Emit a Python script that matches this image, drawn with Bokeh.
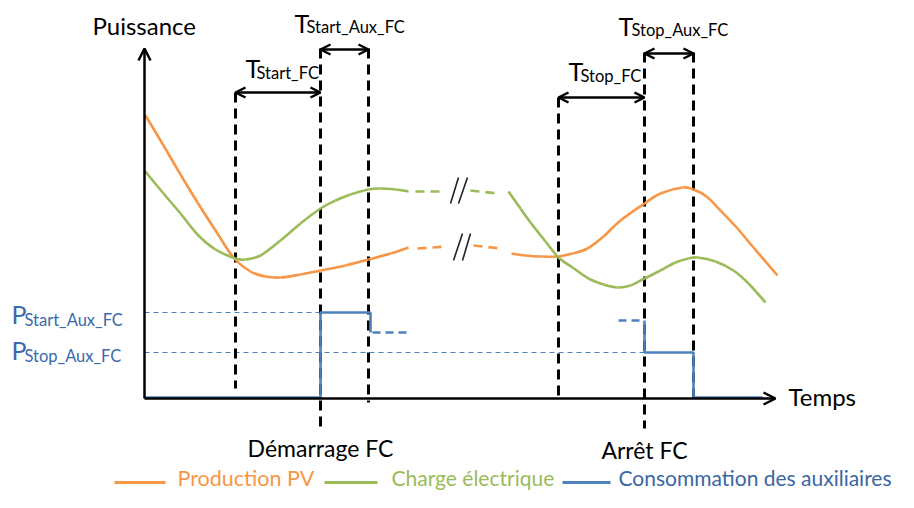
from bokeh.plotting import figure
from bokeh.models import Range1d, Arrow, OpenHead
from bokeh.core.properties import value
from bokeh.embed import file_html
from bokeh.resources import INLINE

# ---------------- data (schematic) ----------------
# Production PV (orange) — segment before and after the time break
pv_t1 = [145, 163, 180, 197, 217, 233, 250, 265, 280, 300, 320, 345, 368, 390, 408]
pv_p1 = [115, 145, 174, 202, 233, 257, 271, 276, 277, 274, 270, 265, 259, 253, 247]
pv_t2 = [511, 525, 540, 558, 572, 587, 603, 620, 644, 660, 682, 693, 706, 720, 737, 753, 777]
pv_p2 = [253, 255, 256, 256, 253, 248, 236, 220, 203, 193, 187, 189, 196, 210, 228, 247, 275]

# Charge électrique (green)
ch_t1 = [144, 163, 180, 197, 215, 235, 245, 260, 280, 300, 320, 335, 350, 368, 380, 395, 408]
ch_p1 = [170, 193, 213, 234, 249, 258, 259, 255, 240, 223, 208, 200, 194, 189, 188, 189, 191]
ch_t2 = [508, 520, 530, 545, 558, 572, 588, 603, 617, 630, 644, 660, 675, 688, 697, 715, 733, 748, 765]
ch_p2 = [191, 208, 222, 241, 257, 267, 278, 284, 287, 285, 278, 270, 262, 258, 257, 261, 270, 283, 302]

# Consommation des auxiliaires (blue steps)
aux_t1 = [144, 320, 320, 370, 370]
aux_p1 = [397, 397, 312, 312, 332]
aux_t2 = [644, 644, 693, 693, 762]
aux_p2 = [320, 352, 352, 397, 397]
aux_dash_t = [[372, 410], [618, 642]]
aux_dash_p = [[332, 332], [320, 320]]

# Thresholds
p_levels = [312, 352]
p_level_ends = [320, 644]

# Event times (vertical dashed markers)
ev_t = [235, 320, 368, 558, 644, 693]
ev_top = [92, 48, 48, 97, 52, 52]
ev_bot = [388, 428, 402, 400, 428, 402]

# Duration arrows
dur_t0 = [235, 320, 558, 644]
dur_t1 = [320, 368, 644, 693]
dur_p = [92, 49, 97, 53]

# Legend entries
leg_labels = ["Production PV", "Charge électrique", "Consommation des auxiliaires"]

ORANGE = "#F79646"
GREEN = "#9BBB59"
BLUE = "#4F81BD"
FONT = value("Lato")
TXT_SHIFT = -10   # rendered baseline sits ~10px below the requested one

p = figure(width=898, height=492, output_backend="svg", toolbar_location=None,
           x_range=Range1d(0, 898), y_range=Range1d(492, 0),
           min_border=0, min_border_left=0, min_border_right=0,
           min_border_top=0, min_border_bottom=0)
p.axis.visible = False
p.grid.visible = False
p.outline_line_color = None
p.background_fill_color = "white"


def smooth(xs, ys, color, width=2.6):
    """Draw a smooth curve through the read points with cubic Bezier pieces (Catmull-Rom)."""
    n = len(xs)
    x0, y0, x1, y1, cx0, cy0, cx1, cy1 = [], [], [], [], [], [], [], []
    for i in range(n - 1):
        xa, ya = xs[i], ys[i]
        xb, yb = xs[i + 1], ys[i + 1]
        xp, yp = (xs[i - 1], ys[i - 1]) if i > 0 else (xa, ya)
        xn, yn = (xs[i + 2], ys[i + 2]) if i + 2 < n else (xb, yb)
        x0.append(xa); y0.append(ya); x1.append(xb); y1.append(yb)
        cx0.append(xa + (xb - xp) / 6.0); cy0.append(ya + (yb - yp) / 6.0)
        cx1.append(xb - (xn - xa) / 6.0); cy1.append(yb - (yn - ya) / 6.0)
    p.bezier(x0=x0, y0=y0, x1=x1, y1=y1, cx0=cx0, cy0=cy0, cx1=cx1, cy1=cy1,
             line_color=color, line_width=width)


# threshold thin dashed lines
p.segment(x0=[144, 144], y0=p_levels, x1=p_level_ends, y1=p_levels,
          line_color=BLUE, line_width=1, line_dash="5 4")

# vertical event dashed lines
p.segment(x0=ev_t, y0=ev_top, x1=ev_t, y1=ev_bot,
          line_color="black", line_width=3, line_dash="10 6")

# curves
smooth(pv_t1, pv_p1, ORANGE)
smooth(pv_t2, pv_p2, ORANGE)
smooth(ch_t1, ch_p1, GREEN)
smooth(ch_t2, ch_p2, GREEN)

# dashed continuations around the break
p.segment(x0=[415, 470], y0=[191, 190], x1=[445, 497], y1=[191, 193],
          line_color=GREEN, line_width=2.6, line_dash="9 6")
p.segment(x0=[417, 473], y0=[248, 245], x1=[447, 500], y1=[246, 248],
          line_color=ORANGE, line_width=2.6, line_dash="9 6")
# break marks //
p.segment(x0=[450, 458, 453, 462], y0=[203, 203, 260, 260],
          x1=[458, 467, 462, 470], y1=[177, 177, 233, 233],
          line_color="#222222", line_width=1.6)

# auxiliaries
p.line(aux_t1, aux_p1, line_color=BLUE, line_width=2.6)
p.line(aux_t2, aux_p2, line_color=BLUE, line_width=2.6)
p.multi_line(aux_dash_t, aux_dash_p, line_color=BLUE, line_width=2.6, line_dash="8 5")

# axes with arrows
p.add_layout(Arrow(end=OpenHead(size=12, line_width=2.5), x_start=144, y_start=398,
                   x_end=144, y_end=48, line_width=2.5, line_color="black"))
p.add_layout(Arrow(end=OpenHead(size=12, line_width=2.5), x_start=144, y_start=398,
                   x_end=775, y_end=398, line_width=2.5, line_color="black"))

# duration arrows
for a, b, y in zip(dur_t0, dur_t1, dur_p):
    p.add_layout(Arrow(start=OpenHead(size=10, line_width=2.5),
                       end=OpenHead(size=10, line_width=2.5),
                       x_start=a, y_start=y, x_end=b, y_end=y,
                       line_width=2.5, line_color="black"))


def txt(x, y, s, size, color="black", align="left"):
    p.text(x=[x], y=[y + TXT_SHIFT], text=[s], text_font=FONT, text_font_size=size,
           text_color=color, text_align=align, text_baseline="alphabetic")


txt(92, 35, "Puissance", "24px")
txt(788, 406, "Temps", "24px")
txt(320, 457, "Démarrage FC", "23px", align="center")
txt(644, 459, "Arrêt FC", "23px", align="center")

# T labels with subscripts
for tx, tb, sx, sb, sub in [(245, 77, 256, 82, "Start_FC"),
                            (294, 32, 306, 36, "Start_Aux_FC"),
                            (568, 80, 580, 85, "Stop_FC"),
                            (618, 35, 631, 39, "Stop_Aux_FC")]:
    txt(tx, tb, "T", "25px")
    txt(sx, sb, sub, "16.5px")

# P labels
PBLUE = "#3A6AAA"
txt(11, 323, "P", "25px", PBLUE)
txt(24, 329, "Start_Aux_FC", "16.5px", PBLUE)
txt(11, 359, "P", "25px", PBLUE)
txt(24, 365, "Stop_Aux_FC", "16.5px", PBLUE)

# legend (manual, kept inside the canvas)
leg_y = 482
p.segment(x0=[114, 324, 562], y0=[leg_y] * 3, x1=[165, 377, 610], y1=[leg_y] * 3,
          line_color=[ORANGE, GREEN, BLUE], line_width=3)
txt(177, 487, leg_labels[0], "21.5px", ORANGE)
txt(391, 487, leg_labels[1], "21px", GREEN)
txt(618, 487, leg_labels[2], "21px", "#3A66A3")

open("out.html", "w").write(file_html(p, INLINE))
